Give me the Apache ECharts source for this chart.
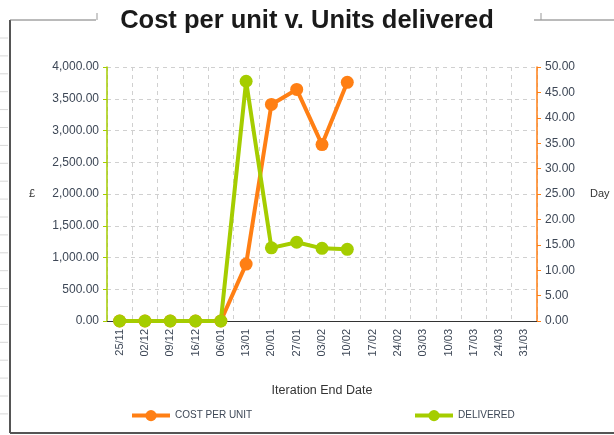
<!DOCTYPE html>
<html>
<head>
<meta charset="utf-8">
<script src="https://cdn.jsdelivr.net/npm/echarts@6/dist/echarts.min.js"></script>
<style>
  html, body { margin: 0; padding: 0; background: #fff; }
  #chart { width: 614px; height: 435px; }
</style>
</head>
<body>
<div id="chart"></div>
<script>
// iteration end dates
var dates = ['25/11', '02/12', '09/12', '16/12', '06/01', '13/01', '20/01', '27/01',
  '03/02', '10/02', '17/02', '24/02', '03/03', '10/03', '17/03', '24/03', '31/03']
// cost per unit (£), left axis
var costPerUnit = [0, 0, 0, 0, 0, 896, 3410, 3647, 2778, 3758]
// units delivered, right axis
var delivered = [0, 0, 0, 0, 0, 47.2, 14.4, 15.5, 14.3, 14.1]

var ORANGE = '#ff7f14'
var GREEN = '#a5cd00'
var FONT = 'Liberation Sans'
var LABEL = '#3d4756'

// pale spreadsheet rows + chart frame
var frame = []
for (var y = 38; y < 425; y += 17.9) {
  frame.push({ type: 'line', shape: { x1: 0, y1: y, x2: 8, y2: y }, style: { stroke: '#d8d8d8', lineWidth: 1 } })
}
frame.push(
  { type: 'line', shape: { x1: 10, y1: 20, x2: 10, y2: 433 }, style: { stroke: '#555', lineWidth: 2 } },
  { type: 'line', shape: { x1: 10, y1: 433, x2: 614, y2: 433 }, style: { stroke: '#555', lineWidth: 2 } },
  { type: 'line', shape: { x1: 10, y1: 20, x2: 96, y2: 20 }, style: { stroke: '#777', lineWidth: 1 } },
  { type: 'line', shape: { x1: 97, y1: 13, x2: 97, y2: 20 }, style: { stroke: '#999', lineWidth: 1 } },
  { type: 'line', shape: { x1: 534, y1: 20, x2: 614, y2: 20 }, style: { stroke: '#777', lineWidth: 1 } },
  { type: 'line', shape: { x1: 541, y1: 13, x2: 541, y2: 20 }, style: { stroke: '#999', lineWidth: 1 } }
)

var legendBase = {
  top: 405,
  itemWidth: 38,
  itemHeight: 14,
  lineStyle: { width: 4 },
  textStyle: { fontFamily: FONT, fontSize: 10, color: LABEL }
}

var chart = echarts.init(document.getElementById('chart'))
chart.setOption({
  animation: false,
  textStyle: { fontFamily: FONT },
  title: {
    text: 'Cost per unit v. Units delivered',
    left: 'center',
    top: 3,
    textStyle: { fontFamily: FONT, fontSize: 25.5, fontWeight: 'bold', color: '#1a1a1a' }
  },
  graphic: frame,
  grid: { left: 107, right: 77, top: 67, bottom: 114, outerBoundsMode: 'none' },
  legend: [
    Object.assign({ data: ['COST PER UNIT'], left: 125 }, legendBase),
    Object.assign({ data: ['DELIVERED'], left: 408 }, legendBase)
  ],
  xAxis: {
    type: 'category',
    data: dates,
    boundaryGap: true,
    name: 'Iteration End Date',
    nameLocation: 'middle',
    nameGap: 63,
    nameTextStyle: { fontFamily: FONT, fontSize: 12.5, color: '#333' },
    axisLine: { lineStyle: { color: '#333', width: 1 } },
    axisTick: { length: 5, lineStyle: { color: '#333' } },
    axisLabel: { rotate: 90, fontSize: 11, color: LABEL, margin: 8 },
    splitLine: { show: true, lineStyle: { color: '#d0d0d0', type: [4, 4] } }
  },
  yAxis: [
    {
      type: 'value',
      min: 0,
      max: 4000,
      interval: 500,
      name: '£',
      nameLocation: 'middle',
      nameRotate: 0,
      nameGap: 72,
      nameTextStyle: { fontFamily: FONT, fontSize: 11, color: '#333' },
      axisLine: { show: true, lineStyle: { color: GREEN, width: 1.5 } },
      axisTick: { show: true, length: 4, lineStyle: { color: GREEN } },
      axisLabel: {
        fontSize: 12,
        color: LABEL,
        margin: 8,
        formatter: function (v) {
          return v.toLocaleString('en-US', { minimumFractionDigits: 2, maximumFractionDigits: 2 })
        }
      },
      splitLine: { show: true, lineStyle: { color: '#d0d0d0', type: [4, 4] } }
    },
    {
      type: 'value',
      min: 0,
      max: 50,
      interval: 5,
      name: 'Day',
      nameLocation: 'middle',
      nameRotate: 0,
      nameGap: 53,
      nameTextStyle: { fontFamily: FONT, fontSize: 11, color: '#333' },
      axisLine: { show: true, lineStyle: { color: ORANGE, width: 1.5 } },
      axisTick: { show: true, length: 4, lineStyle: { color: ORANGE } },
      axisLabel: {
        fontSize: 12,
        color: LABEL,
        margin: 8,
        formatter: function (v) { return v.toFixed(2) }
      },
      splitLine: { show: false }
    }
  ],
  series: [
    {
      name: 'COST PER UNIT',
      type: 'line',
      yAxisIndex: 0,
      data: costPerUnit,
      color: ORANGE,
      symbol: 'circle',
      symbolSize: 13,
      lineStyle: { width: 4 }
    },
    {
      name: 'DELIVERED',
      type: 'line',
      yAxisIndex: 1,
      data: delivered,
      color: GREEN,
      symbol: 'circle',
      symbolSize: 13,
      lineStyle: { width: 4 }
    }
  ]
})
</script>
</body>
</html>
